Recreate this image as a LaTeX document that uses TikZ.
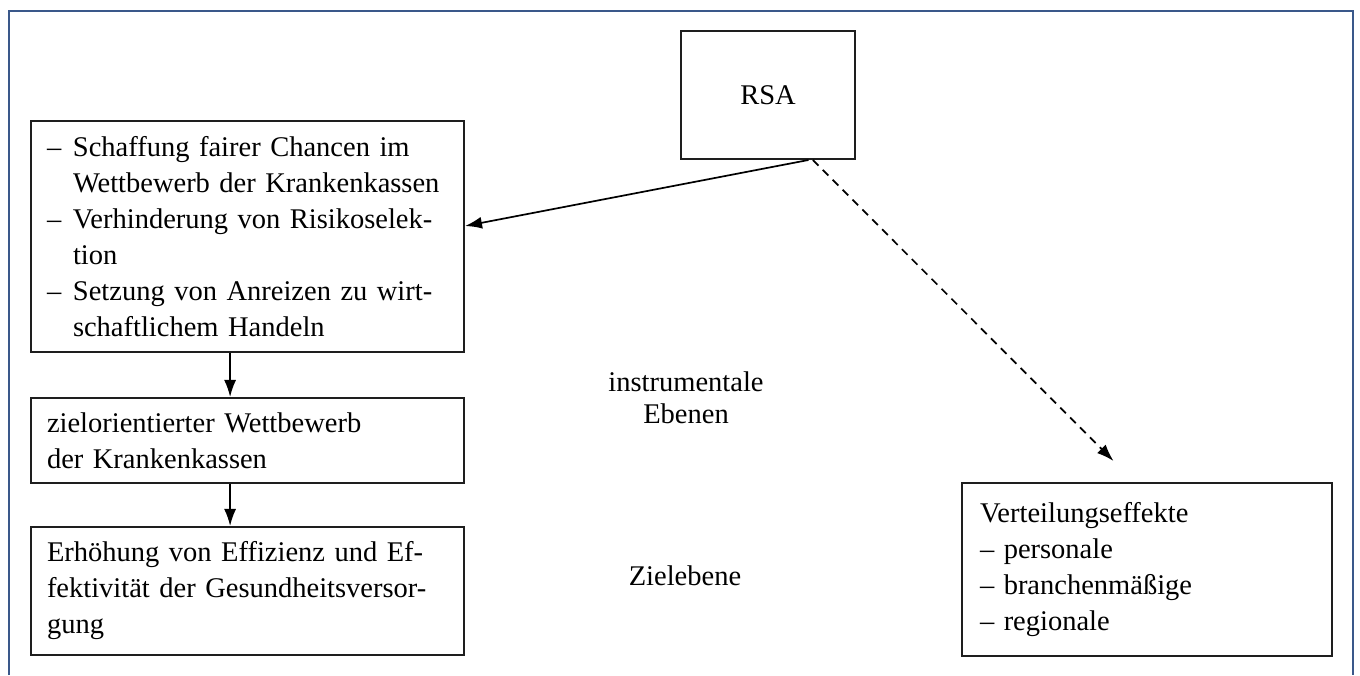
\documentclass[tikz,border=0pt]{standalone}
\usepackage{fontspec}
\setmainfont{Liberation Serif}
\usetikzlibrary{arrows.meta,calc}
\definecolor{framecol}{RGB}{58,88,138}
\definecolor{boxcol}{RGB}{30,30,30}
\tikzset{
  box/.style={draw=boxcol, line width=2pt, rectangle, align=left, inner ysep=0pt, font=\fontsize{28.5}{36}\selectfont},
  plain/.style={align=center, font=\fontsize{28.5}{32}\selectfont},
  arr/.style={line width=1.7pt, -{Latex[length=17pt,width=12pt]}},
  darr/.style={arr, dash pattern=on 8pt off 6pt}
}
\newcommand{\dashitem}{\makebox[26pt][l]{--}}
\newcommand{\hangsp}{\hspace*{26pt}}
\begin{document}
\begin{tikzpicture}[x=1pt,y=1pt]
\useasboundingbox (0,0) rectangle (1360,675);
\draw[framecol, line width=2pt] (9,0) -- (9,664) -- (1353,664) -- (1353,0);

\node[box, minimum width=174pt, minimum height=128pt, align=center, text width=140pt, inner xsep=17pt] (rsa) at (768,580) {RSA};
\node[box, text width=401pt, inner xsep=16pt, minimum height=231pt] (box1) at (247.5,438.5)
  {\dashitem Schaffung fairer Chancen im\\
   \hangsp Wettbewerb der Krankenkassen\\
   \dashitem Verhinderung von Risikoselek-\\
   \hangsp tion\\
   \dashitem Setzung von Anreizen zu wirt-\\
   \hangsp schaftlichem Handeln};
\node[box, text width=401pt, inner xsep=16pt, minimum height=85pt] (box2) at (247.5,234.5)
  {zielorientierter Wettbewerb\\der Krankenkassen};
\node[box, text width=401pt, inner xsep=16pt, minimum height=128pt] (box3) at (247.5,84)
  {Erhöhung von Effizienz und Ef-\\fektivität der Gesundheitsversor-\\gung};
\node[box, text width=334pt, inner xsep=18pt, minimum height=173pt] (box4) at (1147,105.5)
  {Verteilungseffekte\\-- personale\\-- branchenmäßige\\-- regionale\\[8pt]};

\node[plain] (instr) at (686,277) {instrumentale\\Ebenen};
\node[plain] (ziel) at (685,99) {Zielebene};

\coordinate (rsaA) at ($(rsa.south west)!0.73!(rsa.south east)$);
\coordinate (rsaB) at ($(rsa.south west)!0.755!(rsa.south east)$);
\coordinate (b1in) at ($(box1.north east)!0.455!(box1.south east)$);
\coordinate (dend) at ($(box4.north west)!0.41!(box4.north east)+(0,21)$);
\coordinate (b1out) at ($(box1.south west)!0.46!(box1.south east)$);
\coordinate (b2out) at ($(box2.south west)!0.46!(box2.south east)$);

\draw[arr] (rsaA) -- (b1in);
\draw[darr] (rsaB) -- (dend);
\draw[arr] (b1out) -- (b1out |- box2.north);
\draw[arr] (b2out) -- (b2out |- box3.north);
\end{tikzpicture}
\end{document}
